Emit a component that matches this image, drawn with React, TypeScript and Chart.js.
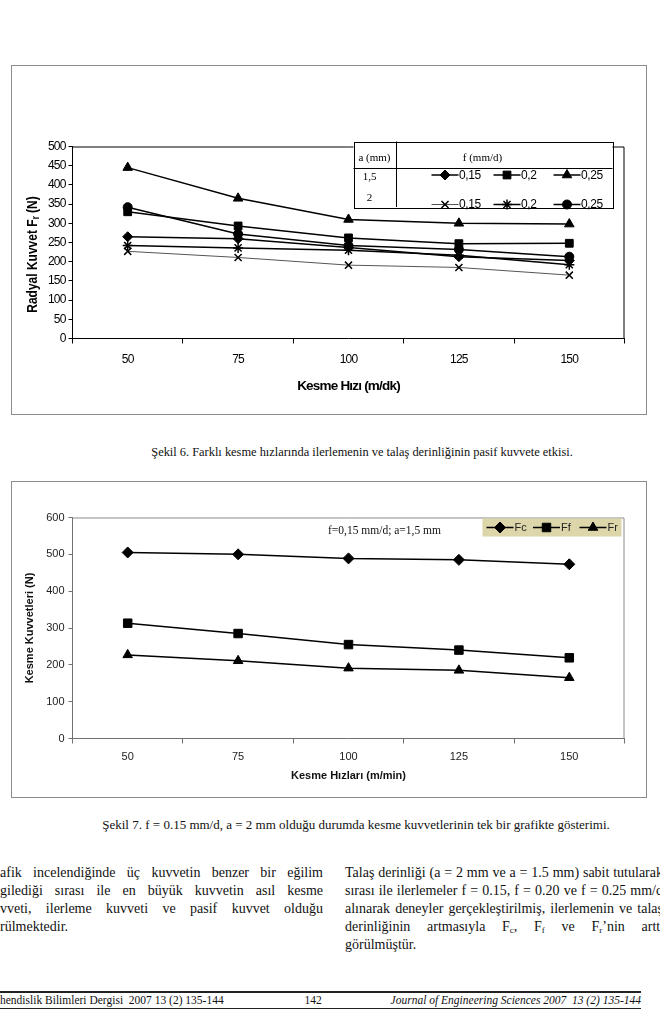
import React, { useEffect, useRef } from "react";
import { Chart, registerables } from "chart.js";
import { drawPoint } from "chart.js/helpers";

Chart.register(...registerables);

// ---------- data ----------
const speeds = ["50", "75", "100", "125", "150"];

// Şekil 6 – radial force Fr (N)
const frA15F015 = [265, 260, 237, 213, 203];
const frA15F02 = [330, 293, 262, 247, 248];
const frA15F025 = [445, 365, 310, 300, 298];
const frA2F015 = [227, 211, 191, 185, 165];
const frA2F02 = [242, 236, 230, 217, 192];
const frA2F025 = [342, 272, 242, 232, 213];
const feedLabels = ["0,15", "0,2", "0,25", "0,15", "0,2", "0,25"];
const depthLabels = ["1,5", "2"];
const fig6YTitle = ["Radyal Kuvvet F", "r", " (N)"];
const fig6XTitle = "Kesme Hızı (m/dk)";

// Şekil 7 – cutting forces (N)
const fc = [505, 500, 489, 485, 473];
const ff = [313, 285, 255, 240, 219];
const fr = [227, 211, 191, 185, 165];
const forceLabels = ["Fc", "Ff", "Fr"];
const fig7Note = "f=0,15 mm/d; a=1,5 mm";
const fig7XTitle = "Kesme Hızları (m/min)";
const fig7YTitle = "Kesme Kuvvetleri (N)";

const SANS = '"Liberation Sans", Arial, sans-serif';
const SERIF = '"Liberation Serif", "Times New Roman", serif';

// ---------- plugins ----------
const condense = (spacing: string) => ({
  id: "condense",
  beforeDraw(chart: any) {
    (chart.ctx as any).letterSpacing = spacing;
  },
  afterDraw(chart: any) {
    (chart.ctx as any).letterSpacing = "0px";
  },
});

const plotFrame = (color: string) => ({
  id: "plotFrame",
  afterDatasetsDraw(chart: any) {
    const { ctx, chartArea: a } = chart;
    ctx.save();
    ctx.strokeStyle = color;
    ctx.lineWidth = 1;
    ctx.beginPath();
    ctx.moveTo(a.left, a.top + 0.5);
    ctx.lineTo(a.right - 0.5, a.top + 0.5);
    ctx.lineTo(a.right - 0.5, a.bottom);
    ctx.stroke();
    ctx.restore();
  },
});

const fig6YTitlePlugin = {
  id: "fig6YTitle",
  afterDraw(chart: any) {
    const { ctx, chartArea: a } = chart;
    ctx.save();
    (ctx as any).letterSpacing = "0px";
    const x = a.left - 40;
    const y = (a.top + a.bottom) / 2 + 12;
    ctx.translate(x, y);
    ctx.rotate(-Math.PI / 2);
    ctx.scale(0.8, 1);
    ctx.fillStyle = "#000";
    ctx.textBaseline = "middle";
    ctx.textAlign = "left";
    const big = `bold 15px ${SANS}`;
    const small = `bold 10px ${SANS}`;
    ctx.font = big;
    const w1 = ctx.measureText(fig6YTitle[0]).width;
    const w3 = ctx.measureText(fig6YTitle[2]).width;
    ctx.font = small;
    const w2 = ctx.measureText(fig6YTitle[1]).width;
    let cx = -(w1 + w2 + w3) / 2;
    ctx.font = big;
    ctx.fillText(fig6YTitle[0], cx, 0);
    cx += w1;
    ctx.font = small;
    ctx.fillText(fig6YTitle[1], cx, 4);
    cx += w2;
    ctx.font = big;
    ctx.fillText(fig6YTitle[2], cx, 0);
    ctx.restore();
  },
};

const drawSample = (ctx: any, ds: any, x: number, y: number, len: number) => {
  ctx.save();
  ctx.strokeStyle = ds.borderColor;
  ctx.lineWidth = ds.borderWidth;
  ctx.beginPath();
  ctx.moveTo(x, y);
  ctx.lineTo(x + len, y);
  ctx.stroke();
  ctx.fillStyle = ds.pointBackgroundColor;
  ctx.strokeStyle = ds.pointBorderColor;
  ctx.lineWidth = ds.pointBorderWidth;
  drawPoint(ctx, { pointStyle: ds.pointStyle, radius: ds.pointRadius, rotation: 0, borderWidth: ds.pointBorderWidth } as any, x + len / 2, y);
  ctx.restore();
};

const fig6LegendPlugin = {
  id: "fig6Legend",
  afterDraw(chart: any) {
    const { ctx, chartArea: a } = chart;
    const ds = chart.data.datasets;
    const x0 = a.right - 271;
    const x1 = a.right - 12;
    const y0 = a.top - 5;
    const y1 = a.top + 60.5;
    const xd = a.right - 229;
    const yh = a.top + 21.5;
    ctx.save();
    (ctx as any).letterSpacing = "0px";
    ctx.fillStyle = "#fff";
    ctx.fillRect(x0, y0, x1 - x0, y1 - y0);
    ctx.strokeStyle = "#000";
    ctx.lineWidth = 1;
    ctx.strokeRect(Math.round(x0) + 0.5, Math.round(y0) + 0.5, Math.round(x1 - x0), Math.round(y1 - y0));
    ctx.beginPath();
    ctx.moveTo(Math.round(xd) + 0.5, y0);
    ctx.lineTo(Math.round(xd) + 0.5, y1);
    ctx.moveTo(x0, Math.round(yh) + 0.5);
    ctx.lineTo(x1, Math.round(yh) + 0.5);
    ctx.stroke();
    ctx.fillStyle = "#000";
    ctx.font = `11px ${SERIF}`;
    ctx.textAlign = "center";
    ctx.textBaseline = "middle";
    ctx.fillText("a (mm)", (x0 + xd) / 2, a.top + 12);
    ctx.fillText("f (mm/d)", a.right - 142, a.top + 12);
    ctx.fillText(depthLabels[0], x0 + 16, a.top + 31);
    ctx.fillText(depthLabels[1], x0 + 16, a.top + 52);
    const cols = [a.right - 193, a.right - 131, a.right - 71];
    const rows = [a.top + 28.5, a.top + 58];
    ctx.font = `12px ${SANS}`;
    (ctx as any).letterSpacing = "-0.4px";
    ctx.textAlign = "left";
    for (let i = 0; i < ds.length; i++) {
      const cx = cols[i % 3];
      const cy = rows[Math.floor(i / 3)];
      drawSample(ctx, ds[i], cx, cy, 27);
      ctx.fillStyle = "#000";
      ctx.fillText(feedLabels[i], cx + 27.5, cy + 0.5);
    }
    ctx.restore();
  },
};

const fig7LegendPlugin = {
  id: "fig7Legend",
  afterDraw(chart: any) {
    const { ctx, chartArea: a } = chart;
    const ds = chart.data.datasets;
    const x0 = a.right - 142;
    const x1 = a.right - 3;
    const y0 = a.top + 1;
    const y1 = a.top + 19;
    ctx.save();
    ctx.fillStyle = "#dcd6aa";
    ctx.fillRect(x0, y0, x1 - x0, y1 - y0);
    ctx.font = `11px ${SANS}`;
    ctx.textBaseline = "middle";
    ctx.textAlign = "left";
    const cy = (y0 + y1) / 2;
    for (let i = 0; i < ds.length; i++) {
      const cx = x0 + 4 + i * 46.5;
      drawSample(ctx, ds[i], cx, cy, 27);
      ctx.fillStyle = "#222";
      ctx.fillText(forceLabels[i], cx + 28, cy + 0.5);
    }
    ctx.fillStyle = "#111";
    ctx.font = `11.5px ${SERIF}`;
    ctx.textAlign = "center";
    ctx.fillText(fig7Note, a.left + 312, a.top + 13);
    ctx.restore();
  },
};

// ---------- dataset helper ----------
const series = (label: string, data: number[], pointStyle: string, radius: number, lineColor = "#000", lineWidth = 1.5, pointBorderWidth = 1) => ({
  label,
  data,
  borderColor: lineColor,
  backgroundColor: "#000",
  borderWidth: lineWidth,
  pointStyle,
  pointRadius: radius,
  pointBackgroundColor: "#000",
  pointBorderColor: "#000",
  pointBorderWidth,
  tension: 0,
  fill: false,
});

const makeFig6 = () => ({
  type: "line",
  data: {
    labels: speeds,
    datasets: [
      series("a=1,5 f=0,15", frA15F015, "rectRot", 5),
      series("a=1,5 f=0,2", frA15F02, "rect", 5.5),
      series("a=1,5 f=0,25", frA15F025, "triangle", 5.5),
      series("a=2 f=0,15", frA2F015, "crossRot", 5, "#555", 1, 1.5),
      series("a=2 f=0,2", frA2F02, "star", 5, "#000", 1.5, 1.5),
      series("a=2 f=0,25", frA2F025, "circle", 4.5),
    ],
  },
  options: {
    animation: false,
    responsive: true,
    maintainAspectRatio: false,
    layout: { padding: { top: 80.5, right: 21.5, left: 0, bottom: 0 } },
    plugins: { legend: { display: false }, tooltip: { enabled: false }, title: { display: false } },
    scales: {
      x: {
        type: "category",
        offset: true,
        grid: { display: true, drawOnChartArea: false, offset: true, tickLength: 5, color: "#000" },
        border: { color: "#000", width: 1 },
        ticks: { font: { family: SANS, size: 12 }, color: "#000", padding: 9 },
        title: { display: true, text: fig6XTitle, color: "#000", font: { family: SANS, size: 13.5, weight: "bold" }, padding: { top: 0, bottom: 20 } },
        afterFit: (s: any) => { s.height = 75.5; },
      },
      y: {
        min: 0,
        max: 500,
        ticks: { stepSize: 50, font: { family: SANS, size: 12 }, color: "#000", padding: 3 },
        grid: { display: true, drawOnChartArea: false, tickLength: 4, color: "#000" },
        border: { color: "#000", width: 1 },
        afterFit: (s: any) => { s.width = 60.5; },
      },
    },
  },
  plugins: [condense("-0.8px"), plotFrame("#000"), fig6YTitlePlugin, fig6LegendPlugin],
});

const makeFig7 = () => ({
  type: "line",
  data: {
    labels: speeds,
    datasets: [
      series(forceLabels[0], fc, "rectRot", 5.5),
      series(forceLabels[1], ff, "rect", 6),
      series(forceLabels[2], fr, "triangle", 5.5),
    ],
  },
  options: {
    animation: false,
    responsive: true,
    maintainAspectRatio: false,
    layout: { padding: { top: 35.5, right: 21.5, left: 0, bottom: 0 } },
    plugins: { legend: { display: false }, tooltip: { enabled: false } },
    scales: {
      x: {
        type: "category",
        offset: true,
        grid: { display: true, drawOnChartArea: false, offset: true, tickLength: 5, color: "#707070" },
        border: { color: "#707070", width: 1 },
        ticks: { font: { family: SANS, size: 11 }, color: "#222", padding: 7 },
        title: { display: true, text: fig7XTitle, color: "#111", font: { family: SANS, size: 11, weight: "bold" }, padding: { top: 0, bottom: 14 } },
        afterFit: (s: any) => { s.height = 58.5; },
      },
      y: {
        min: 0,
        max: 600,
        ticks: { stepSize: 100, font: { family: SANS, size: 11 }, color: "#222", padding: 4 },
        grid: { display: true, drawOnChartArea: false, tickLength: 4, color: "#707070" },
        border: { color: "#707070", width: 1 },
        title: { display: true, text: fig7YTitle, color: "#111", font: { family: SANS, size: 11, weight: "bold" }, padding: { top: 11.5, bottom: 0 } },
        afterFit: (s: any) => { s.width = 60.5; },
      },
    },
  },
  plugins: [plotFrame("#8a8a8a"), fig7LegendPlugin],
});

function ChartFrame({ make, left, top, width, height }: any) {
  const ref = useRef<HTMLCanvasElement>(null);
  useEffect(() => {
    const chart = new Chart(ref.current as HTMLCanvasElement, make() as any);
    return () => chart.destroy();
  }, []);
  return (
    <div style={{ position: "absolute", left, top, width, height, boxSizing: "border-box", border: "1.5px solid #8c8c8c", background: "#fff" }}>
      <div style={{ position: "absolute", left: 0, top: 0, right: 0, bottom: 0 }}>
        <canvas ref={ref} />
      </div>
    </div>
  );
}

const lineStyle = (top: number, left: number, width: number, justify: boolean): React.CSSProperties => ({
  position: "absolute",
  top,
  left,
  width,
  height: 18,
  lineHeight: "18px",
  fontSize: 14,
  whiteSpace: "nowrap",
  textAlign: justify ? "justify" : "left",
  textAlignLast: justify ? "justify" : "left",
} as any);

export default function App() {
  const leftCol = [
    "afik incelendiğinde üç kuvvetin benzer bir eğilim",
    "gilediği sırası ile en büyük kuvvetin asıl kesme",
    "vveti, ilerleme kuvveti ve pasif kuvvet olduğu",
    "rülmektedir.",
  ];
  const sub: React.CSSProperties = { fontSize: 9, verticalAlign: "-2px", lineHeight: 0 };
  return (
    <div style={{ position: "absolute", left: 0, top: 0, width: 660, height: 1017, overflow: "hidden", background: "#fff", fontFamily: SERIF, color: "#111" }}>
      <ChartFrame make={makeFig6} left={11} top={65} width={636} height={350} />
      <div style={{ position: "absolute", left: 62, width: 600, top: 444, lineHeight: "16px", fontSize: 12.4, textAlign: "center", whiteSpace: "nowrap" }}>
        Şekil 6. Farklı kesme hızlarında ilerlemenin ve talaş derinliğinin pasif kuvvete etkisi.
      </div>
      <ChartFrame make={makeFig7} left={11} top={481} width={636} height={317} />
      <div style={{ position: "absolute", left: 56, width: 600, top: 817, lineHeight: "16px", fontSize: 13, textAlign: "center", whiteSpace: "nowrap" }}>
        Şekil 7. f = 0.15 mm/d, a = 2 mm olduğu durumda kesme kuvvetlerinin tek bir grafikte gösterimi.
      </div>
      {leftCol.map((t, i) => (
        <div key={i} style={lineStyle(864 + i * 18, 0, 323, i < 3)}>{t}</div>
      ))}
      <div style={lineStyle(864, 345, 318, true)}>Talaş derinliği (a = 2 mm ve a = 1.5 mm) sabit tutularak</div>
      <div style={lineStyle(882, 345, 318, true)}>sırası ile ilerlemeler f = 0.15, f = 0.20 ve f = 0.25 mm/d</div>
      <div style={lineStyle(900, 345, 318, true)}>alınarak deneyler gerçekleştirilmiş, ilerlemenin ve talaş</div>
      <div style={lineStyle(918, 345, 330, true)}>
        derinliğinin artmasıyla F<sub style={sub}>c</sub>, F<sub style={sub}>f</sub> ve F<sub style={sub}>r</sub>’nin arttığı
      </div>
      <div style={lineStyle(936, 345, 320, false)}>görülmüştür.</div>
      <div style={{ position: "absolute", left: 0, top: 991, width: 641, height: 18, boxSizing: "border-box", borderTop: "2px solid #222", borderBottom: "1.5px solid #222", fontSize: 11.5, lineHeight: "14px" }}>
        <span style={{ position: "absolute", left: 0, top: 0, whiteSpace: "pre" }}>hendislik Bilimleri Dergisi  2007 13 (2) 135-144</span>
        <span style={{ position: "absolute", left: 313, top: 0, transform: "translateX(-50%)" }}>142</span>
        <span style={{ position: "absolute", right: 0, top: 0, whiteSpace: "pre", fontStyle: "italic" }}>Journal of Engineering Sciences 2007  13 (2) 135-144</span>
      </div>
    </div>
  );
}
